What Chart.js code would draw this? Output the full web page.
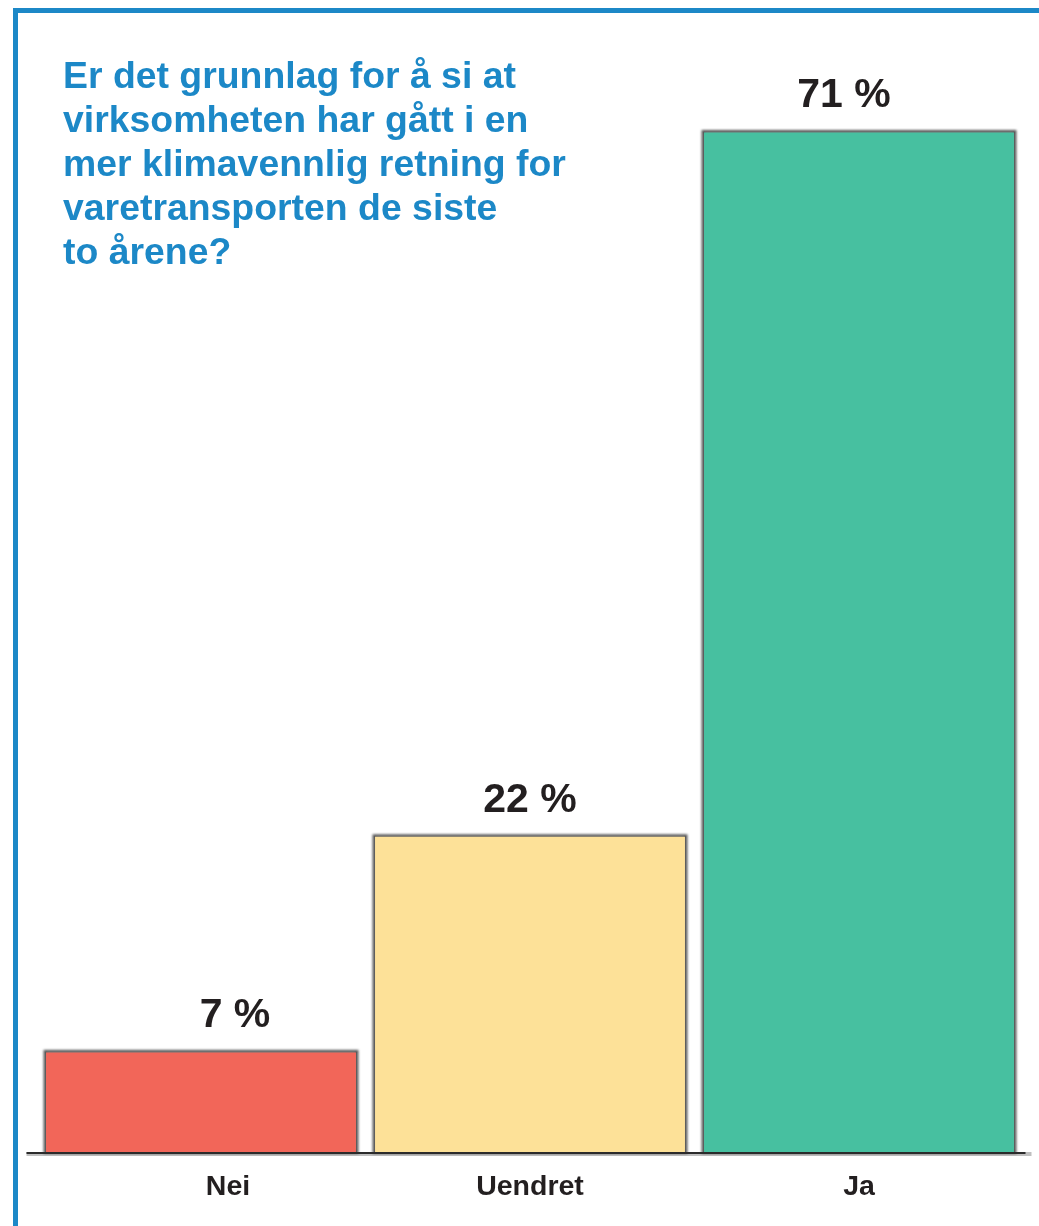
<!DOCTYPE html>
<html lang="no">
<head>
<meta charset="utf-8">
<title>Klimavennlig varetransport</title>
<script src="https://cdn.jsdelivr.net/npm/chart.js@4/dist/chart.umd.min.js"></script>
<style>
  html, body { margin: 0; padding: 0; background: #ffffff; }
  #wrap { position: relative; width: 1039px; height: 1226px; overflow: hidden; }
  #frame {
    position: absolute; left: 13px; top: 8px; right: -10px; bottom: -10px;
    border-left: 5px solid #1c88c7; border-top: 5px solid #1c88c7;
  }
  #title {
    position: absolute; left: 63px; top: 53px; margin: 0;
    font-family: "Liberation Sans", Arial, sans-serif; font-weight: bold;
    font-size: 37.4px; line-height: 44px; color: #1c88c7;
  }
  canvas { position: absolute; left: 0; top: 0; }
</style>
</head>
<body>
<div id="wrap">
  <div id="frame"></div>
  <canvas id="chart" width="1039" height="1226"></canvas>
  <p id="title">Er det grunnlag for å si at<br>virksomheten har gått i en<br>mer klimavennlig retning for<br>varetransporten de siste<br>to årene?</p>
</div>
<script>
// Svarfordeling (prosent)
const categories = ['Nei', 'Uendret', 'Ja'];
const shares = [7, 22, 71];
const barColors = ['#f26659', '#fde198', '#47c0a0'];
const valueLabels = ['7 %', '22 %', '71 %'];

// Soft grey halo behind each bar, taken from the bar elements' geometry
const barShadow = {
  id: 'barShadow',
  beforeDatasetsDraw(chart) {
    const ctx = chart.ctx;
    const meta = chart.getDatasetMeta(0);
    ctx.save();
    ctx.filter = 'blur(1.2px)';
    ctx.strokeStyle = 'rgba(60,60,60,0.85)';
    ctx.lineWidth = 3;
    meta.data.forEach((bar) => {
      const left = bar.x - bar.width / 2;
      ctx.strokeRect(left, bar.y, bar.width, bar.base - bar.y);
    });
    ctx.restore();
  }
};

// Baseline, value labels above bars and category names below
const annotate = {
  id: 'annotate',
  afterDatasetsDraw(chart, args, opts) {
    const ctx = chart.ctx;
    const area = chart.chartArea;
    const x = chart.scales.x;
    const meta = chart.getDatasetMeta(0);

    ctx.save();
    ctx.filter = 'blur(0.6px)';
    ctx.strokeStyle = 'rgba(0,0,0,0.25)';
    ctx.lineWidth = 4;
    ctx.beginPath();
    ctx.moveTo(area.left - 10, area.bottom + 2);
    ctx.lineTo(area.right + 8, area.bottom + 2);
    ctx.stroke();
    ctx.restore();

    ctx.save();
    ctx.strokeStyle = '#2b2b2b';
    ctx.lineWidth = 2;
    ctx.beginPath();
    ctx.moveTo(area.left - 10, area.bottom + 1);
    ctx.lineTo(area.right + 2, area.bottom + 1);
    ctx.stroke();
    ctx.restore();

    ctx.save();
    ctx.fillStyle = '#231f20';
    ctx.textAlign = 'center';
    ctx.textBaseline = 'alphabetic';
    ctx.font = 'bold 41px "Liberation Sans", Arial, sans-serif';
    meta.data.forEach((bar, i) => {
      ctx.fillText(valueLabels[i], bar.x + opts.valueShift[i], bar.y - 24);
    });
    ctx.font = 'bold 28.5px "Liberation Sans", Arial, sans-serif';
    categories.forEach((c, i) => {
      ctx.fillText(c, x.getPixelForValue(i) + opts.nameShift[i], area.bottom + 43);
    });
    ctx.restore();
  }
};

new Chart(document.getElementById('chart'), {
  type: 'bar',
  data: {
    labels: categories,
    datasets: [{
      data: shares,
      backgroundColor: barColors,
      borderColor: '#5a5a5a',
      borderWidth: 1,
      categoryPercentage: 1,
      barPercentage: 0.948
    }]
  },
  options: {
    responsive: false,
    animation: false,
    events: [],
    layout: { padding: { left: 36.5, right: 15.5, top: 74, bottom: 74 } },
    scales: {
      x: { display: false },
      y: { display: false, min: 0, max: 75 }
    },
    plugins: {
      legend: { display: false },
      tooltip: { enabled: false },
      annotate: { valueShift: [34, 0, -15], nameShift: [27, 0, 0] }
    }
  },
  plugins: [barShadow, annotate]
});
</script>
</body>
</html>
